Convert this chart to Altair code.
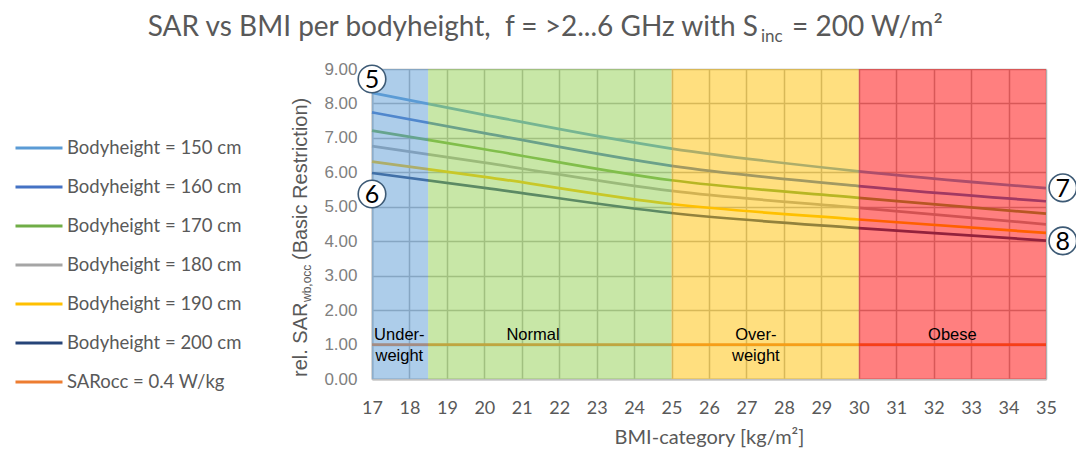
import altair as alt
import pandas as pd

# ---------------- data ----------------
bmi_points = [17, 20, 25, 30, 35]
series_labels = [
    "Bodyheight = 150 cm",
    "Bodyheight = 160 cm",
    "Bodyheight = 170 cm",
    "Bodyheight = 180 cm",
    "Bodyheight = 190 cm",
    "Bodyheight = 200 cm",
]
sar_150 = [8.31, 7.67, 6.69, 6.03, 5.54]
sar_160 = [7.74, 7.14, 6.19, 5.60, 5.16]
sar_170 = [7.21, 6.67, 5.77, 5.26, 4.80]
sar_180 = [6.76, 6.28, 5.46, 4.97, 4.49]
sar_190 = [6.31, 5.87, 5.08, 4.63, 4.24]
sar_200 = [5.98, 5.55, 4.82, 4.38, 4.02]

occ_label = "SARocc = 0.4 W/kg"
occ_bmi = [17, 35]
occ_value = [1.0, 1.0]

series_colors = ["#5b9bd5", "#4472c4", "#70ad47", "#a5a5a5", "#ffc000", "#264478", "#ed7d31"]

band_labels = ["Under-\nweight", "Normal", "Over-\nweight", "Obese"]
band_from = [17, 18.5, 25, 30]
band_to = [18.5, 25, 30, 35]
band_bottom = [0, 0, 0, 0]
band_top = [9, 9, 9, 9]
band_colors = ["#5b9bd5", "#92d050", "#ffc000", "#ff0000"]
band_label_bmi = [17.73, 21.3, 27.25, 32.5]
band_label_value = [1.28, 1.28, 1.28, 1.28]

marker_labels = ["5", "6", "7", "8"]
marker_bmi = [17, 17, 35.45, 35.45]
marker_value = [8.71, 5.37, 5.55, 4.01]

x_ticks = list(range(17, 36))
y_ticks = list(range(0, 10))

title_main = "SAR vs BMI per bodyheight,\u00a0 f = >2...6 GHz with S"
title_sub = "inc"
title_tail = "= 200 W/m²"
ytitle_main = "rel. SAR"
ytitle_sub = "wb,occ"
ytitle_tail = "(Basic Restriction)"

# ---------------- tables ----------------
rows = []
for lab, vals in zip(series_labels, [sar_150, sar_160, sar_170, sar_180, sar_190, sar_200]):
    for b, v in zip(bmi_points, vals):
        rows.append({"series": lab, "bmi": b, "sar": v})
for b, v in zip(occ_bmi, occ_value):
    rows.append({"series": occ_label, "bmi": b, "sar": v})
line_df = pd.DataFrame(rows)
all_labels = series_labels + [occ_label]

band_df = pd.DataFrame({"label": band_labels, "bmi": band_from, "bmi2": band_to,
                        "sar": band_bottom, "sar2": band_top,
                        "col": band_colors, "lx": band_label_bmi, "ly": band_label_value})
marker_df = pd.DataFrame({"label": marker_labels, "bmi": marker_bmi, "sar": marker_value})
one = pd.DataFrame({"k": [0]})

FONT = "Lato"
ARIAL = "Liberation Sans"
GREY = "#595959"

x_scale = alt.Scale(domain=[17, 35], nice=False, zero=False)
y_scale = alt.Scale(domain=[0, 9], nice=False, zero=True)
x_axis = alt.Axis(values=x_ticks, title="BMI-category [kg/m²]", ticks=False,
                  labelOverlap=False, labelFlush=False,
                  labelFont=FONT, labelFontSize=18, labelColor=GREY, labelPadding=20,
                  domainColor="#bfbfbf", domainWidth=2,
                  grid=True, gridColor="#b0b0b0", gridWidth=1.5,
                  titleFont=FONT, titleFontSize=20, titleColor=GREY,
                  titleFontWeight="normal", titlePadding=10)
y_axis = alt.Axis(values=y_ticks, format=".2f", title=None, ticks=False,
                  labelOverlap=False, labelFlush=False,
                  labelFont=ARIAL, labelFontSize=17, labelColor="#808080", labelPadding=15,
                  domainColor="#bfbfbf", domainWidth=2,
                  grid=True, gridColor="#b0b0b0", gridWidth=1.5)


def X(field):
    return alt.X(field, scale=x_scale, axis=x_axis)


def Y(field):
    return alt.Y(field, scale=y_scale, axis=y_axis)


lines = alt.Chart(line_df).mark_line(strokeWidth=2.7, interpolate="monotone").encode(
    x=X("bmi:Q"),
    y=Y("sar:Q"),
    color=alt.Color("series:N",
                    scale=alt.Scale(domain=all_labels, range=series_colors),
                    sort=all_labels, title=None,
                    legend=alt.Legend(orient="none", legendX=-358, legendY=54,
                                      symbolType="stroke", symbolSize=2209, symbolStrokeWidth=3,
                                      symbolOpacity=1,
                                      labelFont=FONT, labelFontSize=18.5, labelColor=GREY,
                                      rowPadding=4, padding=0, labelOffset=3, labelLimit=300)),
)

bands = alt.Chart(band_df).mark_rect(fillOpacity=0.5, strokeWidth=0).encode(
    x=X("bmi:Q"), x2="bmi2:Q", y=Y("sar:Q"), y2="sar2:Q",
    fill=alt.Fill("col:N", scale=None),
)

band_text = alt.Chart(band_df).mark_text(
    font=ARIAL, fontSize=16.5, color="black", lineBreak="\n", lineHeight=21,
    baseline="middle", align="center",
).encode(x=X("lx:Q"), y=Y("ly:Q"), text="label:N")

markers = alt.Chart(marker_df).mark_point(
    shape="circle", fill="white", fillOpacity=1, stroke="#3d5a75", strokeWidth=1.6,
    size=760, opacity=1,
).encode(x=X("bmi:Q"), y=Y("sar:Q"))

marker_text = alt.Chart(marker_df).mark_text(
    font=FONT, fontSize=25, color="black", baseline="middle", align="center", dy=1,
).encode(x=X("bmi:Q"), y=Y("sar:Q"), text="label:N")

t1 = alt.Chart(one).mark_text(text=title_main, align="right", baseline="alphabetic",
                              font=FONT, fontSize=28, color=GREY).encode(
    x=alt.value(386), y=alt.value(-33))
t2 = alt.Chart(one).mark_text(text=title_sub, align="left", baseline="alphabetic",
                              font=FONT, fontSize=17, color=GREY).encode(
    x=alt.value(389), y=alt.value(-27))
t3 = alt.Chart(one).mark_text(text=title_tail, align="left", baseline="alphabetic",
                              font=FONT, fontSize=28, color=GREY).encode(
    x=alt.value(420), y=alt.value(-33))

y1 = alt.Chart(one).mark_text(text=ytitle_main, align="left", baseline="alphabetic", angle=270,
                              font=ARIAL, fontSize=20, color=GREY).encode(
    x=alt.value(-65), y=alt.value(308))
y2 = alt.Chart(one).mark_text(text=ytitle_sub, align="left", baseline="alphabetic", angle=270,
                              font=ARIAL, fontSize=12, color=GREY).encode(
    x=alt.value(-61), y=alt.value(233))
y3 = alt.Chart(one).mark_text(text=ytitle_tail, align="left", baseline="alphabetic", angle=270,
                              font=ARIAL, fontSize=20, color=GREY).encode(
    x=alt.value(-65), y=alt.value(191))

chart = alt.layer(lines, bands, band_text, markers, marker_text, t1, t2, t3, y1, y2, y3).properties(
    width=674, height=310,
    padding={"left": 364, "top": 61, "right": 30, "bottom": 70},
    autosize=alt.AutoSizeParams(type="none"),
    background="white",
).configure_view(strokeWidth=0)

chart.save("out.html", embed_options={"renderer": "svg", "actions": False})
